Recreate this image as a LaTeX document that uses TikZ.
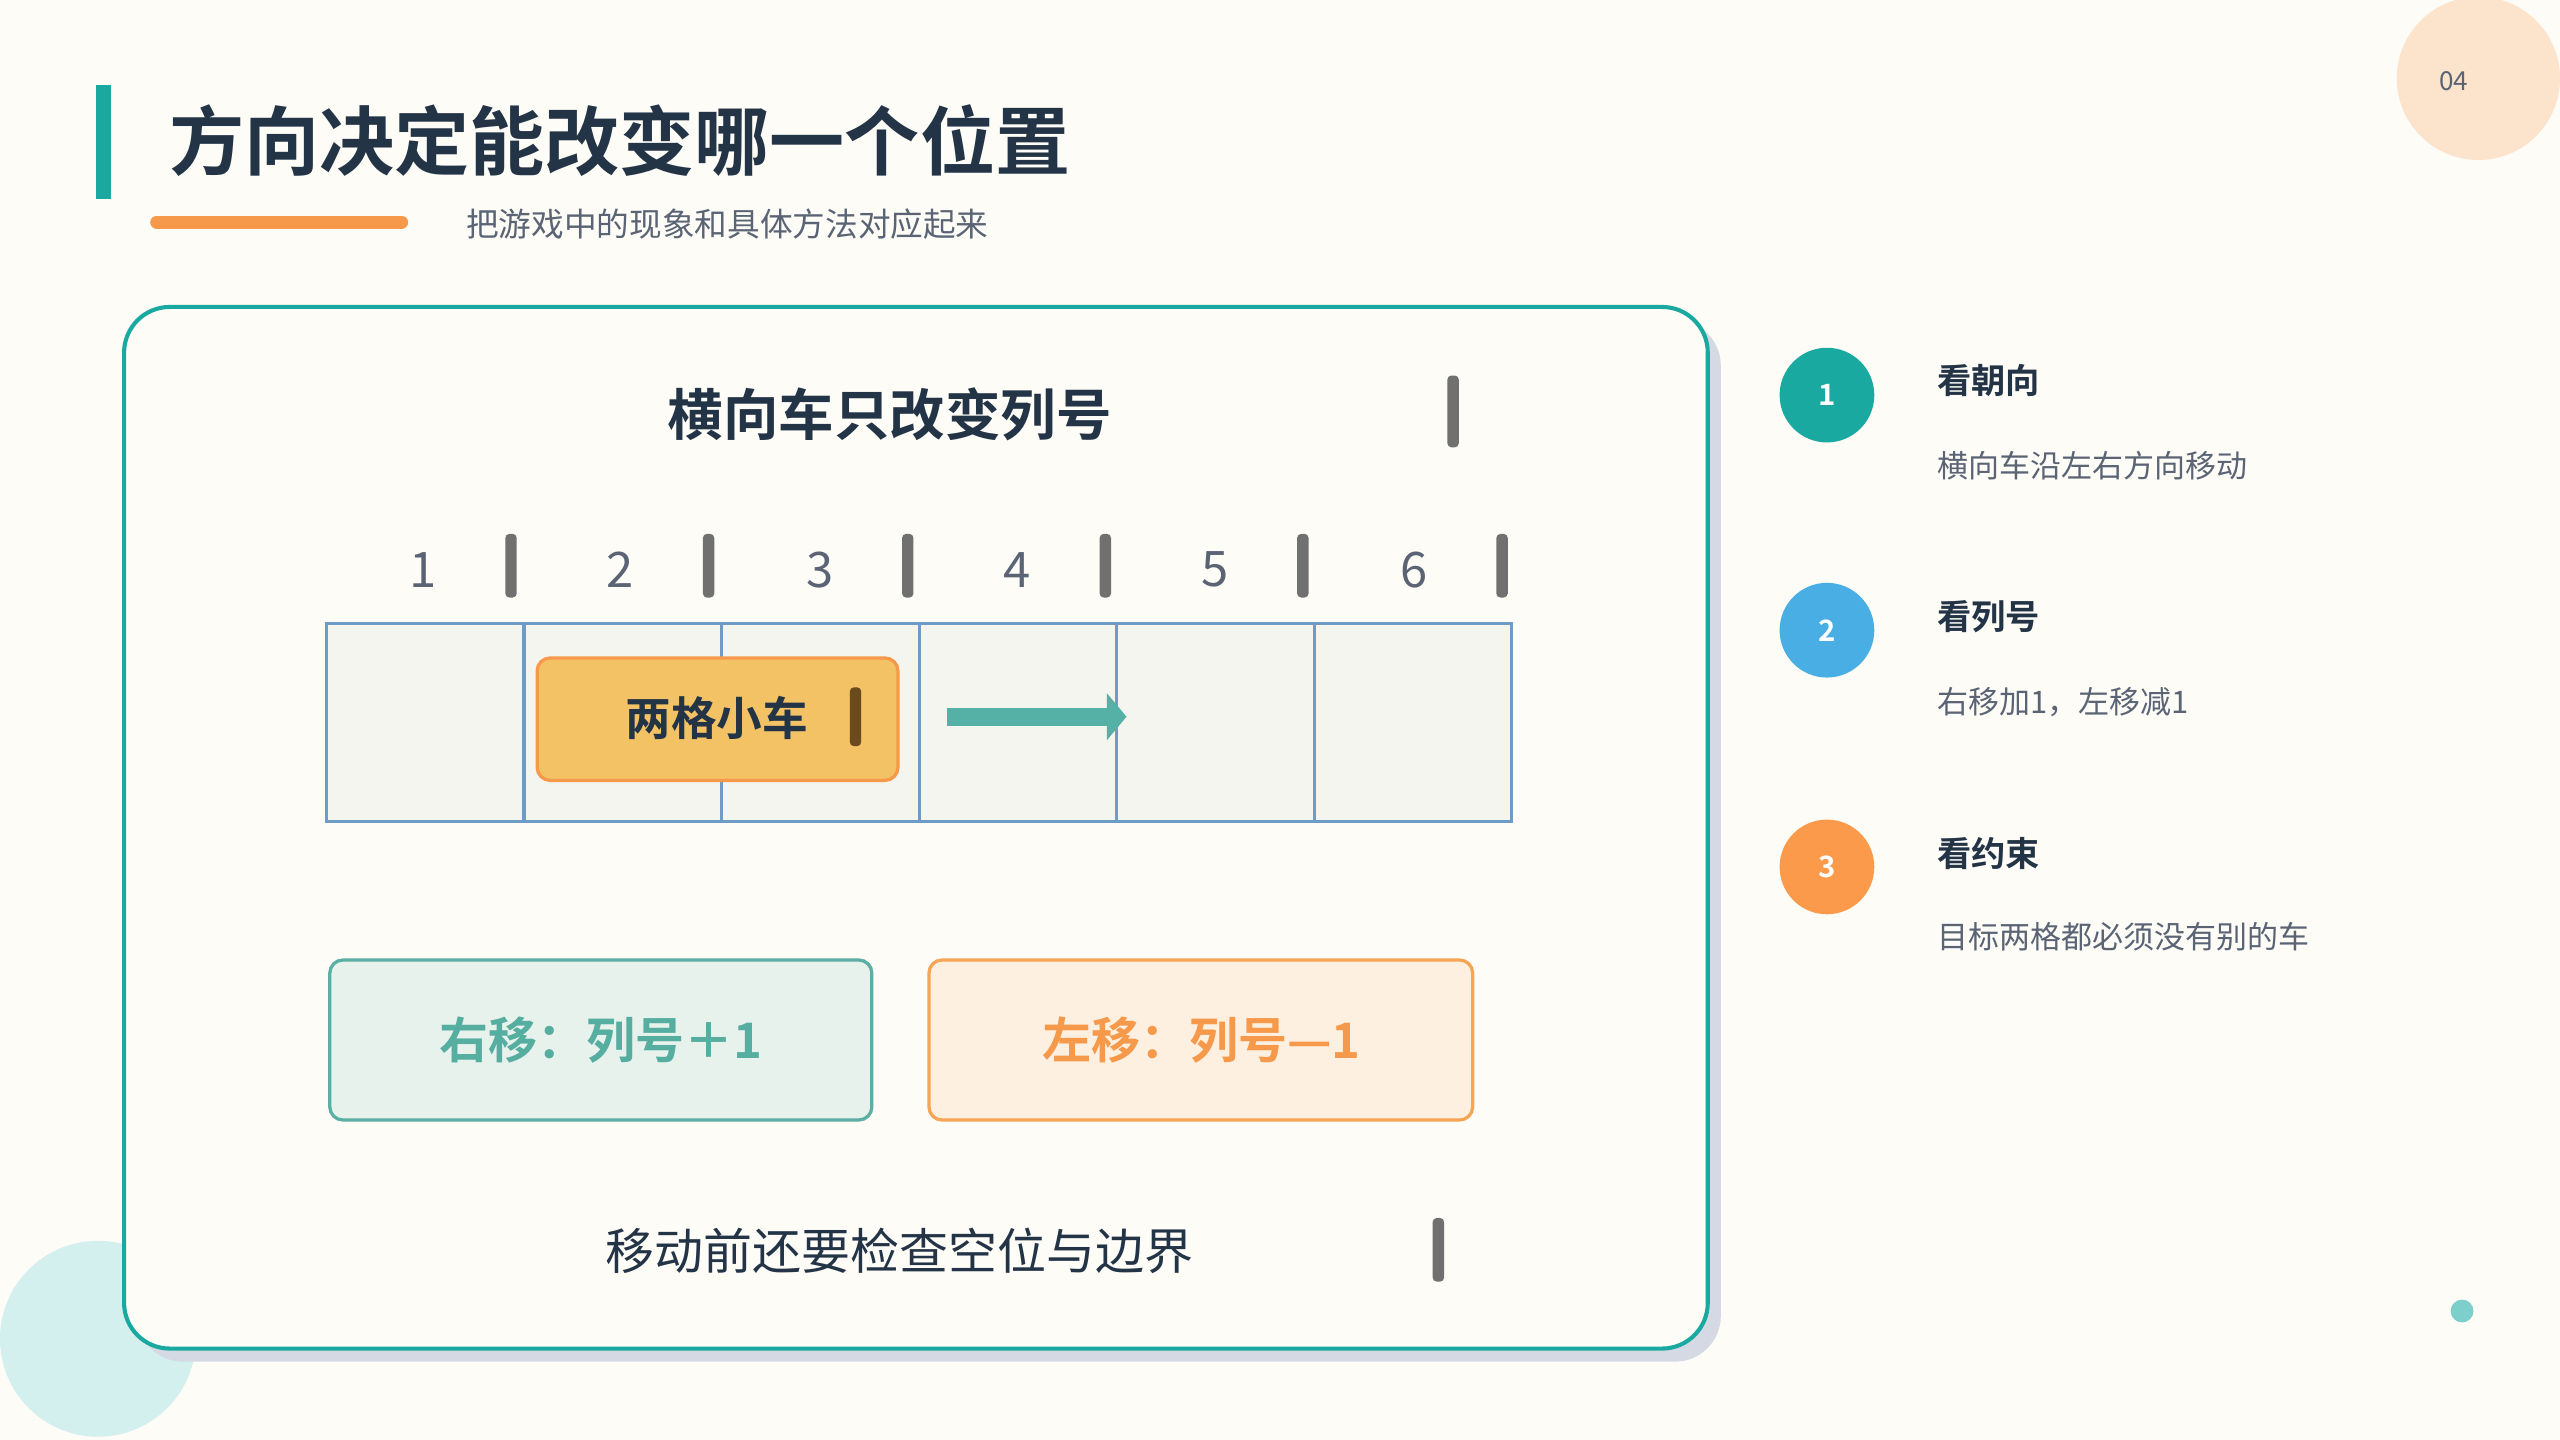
\documentclass[tikz,border=0pt]{standalone}
\usepackage{fontspec}
\setmainfont{Noto Sans CJK SC}[BoldFont={Noto Sans CJK SC Bold}]
\usetikzlibrary{arrows.meta}
\definecolor{bg}{HTML}{FDFCF7}
\definecolor{navy}{HTML}{243447}
\definecolor{teal}{HTML}{1AA9A0}
\definecolor{orng}{HTML}{F7994A}
\definecolor{gtxt}{HTML}{5A6475}
\definecolor{gridb}{HTML}{6E9CC6}
\definecolor{cellf}{HTML}{F3F5EE}
\definecolor{barc}{HTML}{707070}
\definecolor{peach}{HTML}{FCE3CC}
\definecolor{lteal}{HTML}{D3EFEE}
\definecolor{dteal}{HTML}{7DCFCB}
\definecolor{shad}{HTML}{D5D9E3}
\definecolor{carf}{HTML}{F2C265}
\definecolor{brown}{HTML}{6B4A1E}
\definecolor{arr}{HTML}{55B0A5}
\definecolor{gbd}{HTML}{5BAFA5}
\definecolor{gfl}{HTML}{E7F2EC}
\definecolor{gtx}{HTML}{55AE9F}
\definecolor{obd}{HTML}{F7A555}
\definecolor{ofl}{HTML}{FEF0E1}
\definecolor{blu}{HTML}{49AEE3}
\definecolor{org2}{HTML}{FA9A4A}
\tikzset{
  px/.style={x=1pt,y=-1pt},
  bar/.style={draw=none,fill=barc,rounded corners=2.5pt},
  num/.style={fill=#1,circle,minimum size=58pt,inner sep=0pt,text=white,font=\fontsize{18}{18}\selectfont\bfseries},
  head/.style={anchor=west,text=navy,font=\fontsize{21}{21}\selectfont\bfseries},
  desc/.style={anchor=west,text=gtxt,font=\fontsize{19}{19}\selectfont},
  col/.style={text=gtxt,font=\fontsize{30}{30}\selectfont},
}
\begin{document}
\begin{tikzpicture}[px]
\fill[bg] (0,0) rectangle (1568,882);
\useasboundingbox (0,0) rectangle (1568,882);
\fill[peach] (1518,48) circle (50);
\node[text=gtxt,font=\fontsize{16}{16}\selectfont] (pg) at (1503,50) {04};
\fill[lteal] (60,820) circle (60);
\fill[dteal] (1508,803) circle (7);
\fill[teal] (59,52) rectangle (68,122);
\node[anchor=west,text=navy,font=\fontsize{46}{46}\selectfont\bfseries] (title) at (100,86) {方向决定能改变哪一个位置};
\draw[orng,line width=8pt,line cap=round] (96,136) -- (246,136);
\node[anchor=west,text=gtxt,font=\fontsize{20}{20}\selectfont] (sub) at (282,137) {把游戏中的现象和具体方法对应起来};
% card
\fill[shad,rounded corners=28pt] (84,196) rectangle (1054,834);
\draw[teal,line width=2.5pt,fill=bg,rounded corners=28pt] (76,188) rectangle (1046,826);
\node[text=navy,font=\fontsize{34}{34}\selectfont\bfseries] (ct) at (545,254) {横向车只改变列号};
\fill[bar] (886.5,230) rectangle (893.5,274);
% columns
\foreach \i/\x in {1/259,2/380,3/502,4/623,5/744,6/866}{
  \node[col] (n\i) at (\x,349) {\i};
  \fill[bar] (\x+50.5,327) rectangle (\x+57.5,366);
}
\foreach \i in {0,...,5}{
  \draw[gridb,line width=2pt,fill=cellf] (200+\i*121,382) rectangle (321+\i*121,503);
}
\draw[orng,line width=2pt,fill=carf,rounded corners=8pt] (329,403) rectangle (550,478);
\node[text=navy,font=\fontsize{28}{28}\selectfont\bfseries] (car) at (439,440) {两格小车};
\fill[brown,rounded corners=2.5pt] (520.5,421) rectangle (527.5,457);
\coordinate (a1) at (580,439); \coordinate (a2) at (690,439);
\draw[arr,line width=11pt,-{Triangle[length=12pt,width=28pt]}] (a1) -- (a2);
% boxes
\draw[gbd,line width=2pt,fill=gfl,rounded corners=8pt] (202,588) rectangle (534,686);
\node[text=gtx,font=\fontsize{30}{30}\selectfont\bfseries] (r) at (368,637) {右移：列号＋1};
\draw[obd,line width=2pt,fill=ofl,rounded corners=8pt] (569,588) rectangle (902,686);
\node[text=orng,font=\fontsize{30}{30}\selectfont\bfseries] (l) at (736,637) {左移：列号—1};
\node[text=navy,font=\fontsize{30}{30}\selectfont] (chk) at (551,766) {移动前还要检查空位与边界};
\fill[bar] (877.5,746) rectangle (884.5,785);
% right list
\node[num=teal] (c1) at (1119,242) {1};
\node[num=blu] (c2) at (1119,386) {2};
\node[num=org2] (c3) at (1119,531) {3};
\node[head] (h1) at (1183,233) {看朝向};
\node[desc] (d1) at (1183,285) {横向车沿左右方向移动};
\node[head] (h2) at (1183,378) {看列号};
\node[desc] (d2) at (1183,430) {右移加1，左移减1};
\node[head] (h3) at (1183,523) {看约束};
\node[desc] (d3) at (1183,574) {目标两格都必须没有别的车};
\end{tikzpicture}
\end{document}
